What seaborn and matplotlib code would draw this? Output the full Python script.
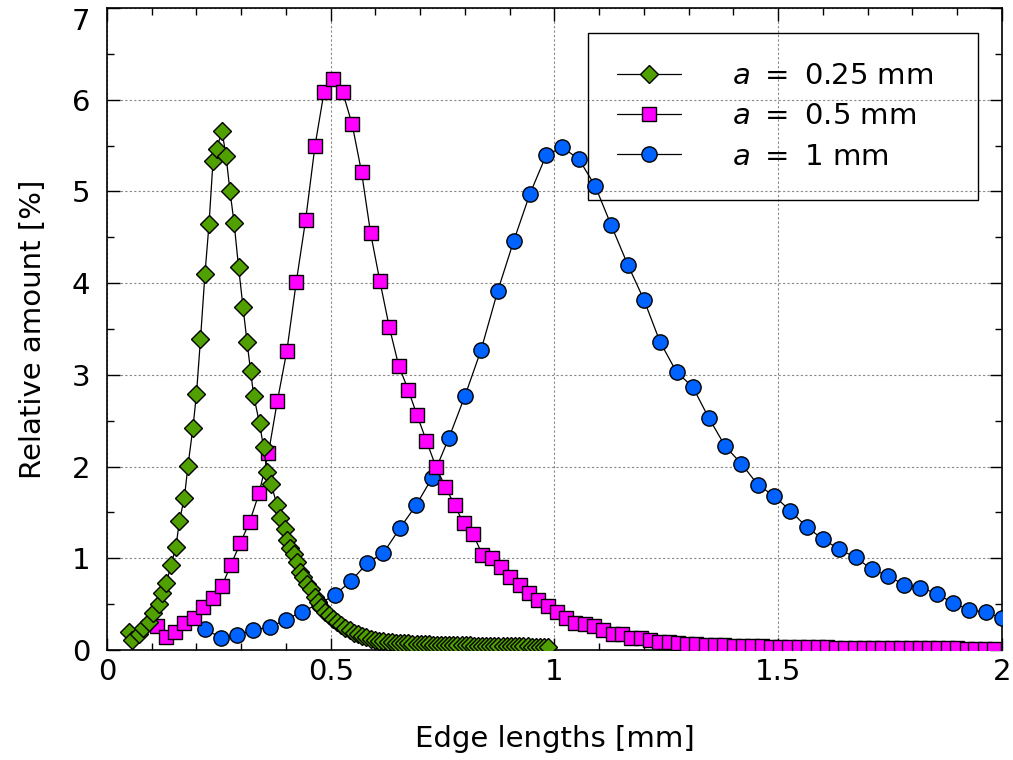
import numpy as np
import matplotlib
matplotlib.use("Agg")
import matplotlib.pyplot as plt
from matplotlib.ticker import MultipleLocator, FormatStrFormatter
import seaborn as sns

# a = 0.25 mm (green diamonds)
green_x = [0.050, 0.057, 0.072, 0.080, 0.093, 0.102, 0.116, 0.122, 0.133, 0.143,
           0.154, 0.162, 0.173, 0.181, 0.192, 0.200, 0.209, 0.219, 0.228, 0.237,
           0.245, 0.257, 0.266, 0.275, 0.284, 0.294, 0.304, 0.313, 0.321, 0.328,
           0.341, 0.350, 0.358, 0.367, 0.380, 0.387, 0.397, 0.403, 0.410, 0.418,
           0.425, 0.431, 0.438, 0.448, 0.455, 0.464, 0.472, 0.479, 0.487, 0.496,
           0.505, 0.515, 0.524, 0.533, 0.543, 0.552, 0.561, 0.571, 0.580, 0.590,
           0.599, 0.609,
           0.618, 0.627, 0.636, 0.646, 0.655, 0.664, 0.673, 0.682, 0.692, 0.701,
           0.710, 0.719, 0.728, 0.737, 0.747, 0.756, 0.765, 0.774, 0.783, 0.793,
           0.802, 0.811, 0.820, 0.829, 0.838, 0.848, 0.857, 0.866, 0.875, 0.884,
           0.894, 0.903, 0.912, 0.921, 0.930, 0.940, 0.949, 0.958, 0.967, 0.976,
           0.985]
green_y = [0.195, 0.105, 0.176, 0.24, 0.31, 0.40, 0.50, 0.62, 0.73, 0.93,
           1.12, 1.41, 1.66, 2.01, 2.42, 2.79, 3.39, 4.10, 4.64, 5.33,
           5.46, 5.66, 5.39, 5.00, 4.66, 4.18, 3.74, 3.36, 3.04, 2.77,
           2.47, 2.21, 1.94, 1.81, 1.58, 1.44, 1.32, 1.20, 1.11, 1.05,
           0.96, 0.85, 0.80, 0.72, 0.67, 0.58, 0.52, 0.47, 0.41, 0.38,
           0.34, 0.305, 0.27, 0.245, 0.22, 0.19, 0.17, 0.15, 0.14, 0.12,
           0.11, 0.10,
           0.095, 0.09, 0.085, 0.08, 0.078, 0.075, 0.072, 0.07, 0.068, 0.066,
           0.064, 0.062, 0.06, 0.058, 0.057, 0.056, 0.055, 0.054, 0.053, 0.052,
           0.051, 0.05, 0.049, 0.048, 0.047, 0.046, 0.045, 0.045, 0.044, 0.043,
           0.042, 0.042, 0.041, 0.04, 0.04, 0.039, 0.038, 0.038, 0.037, 0.036,
           0.035]

# a = 0.5 mm (magenta squares)
mag_x = [0.111, 0.132, 0.153, 0.173, 0.194, 0.215, 0.236, 0.257, 0.277, 0.298,
         0.319, 0.340, 0.361, 0.381, 0.402, 0.423, 0.444, 0.465, 0.485, 0.506,
         0.527, 0.548, 0.569, 0.589, 0.610, 0.631, 0.652, 0.673, 0.693, 0.714,
         0.735, 0.756, 0.777, 0.797, 0.818, 0.839, 0.860, 0.881, 0.901, 0.922,
         0.943, 0.964, 0.985, 1.005, 1.026, 1.047, 1.068, 1.089, 1.109, 1.130,
         1.151, 1.172, 1.193, 1.213, 1.234, 1.255, 1.276, 1.297, 1.317, 1.338,
         1.359, 1.380, 1.401, 1.421, 1.442, 1.463, 1.484, 1.505, 1.525, 1.546,
         1.567, 1.588, 1.609, 1.629, 1.650, 1.671, 1.692, 1.713, 1.733, 1.754,
         1.775, 1.796, 1.817, 1.837, 1.858, 1.879, 1.900, 1.921, 1.941, 1.962,
         1.983]
mag_y = [0.26, 0.145, 0.20, 0.29, 0.345, 0.465, 0.57, 0.70, 0.93, 1.165,
         1.40, 1.71, 2.15, 2.72, 3.26, 4.01, 4.69, 5.50, 6.08, 6.23,
         6.08, 5.73, 5.21, 4.55, 4.02, 3.52, 3.10, 2.84, 2.56, 2.28,
         2.00, 1.78, 1.58, 1.38, 1.265, 1.04, 1.00, 0.90, 0.80, 0.71,
         0.62, 0.545, 0.48, 0.41, 0.35, 0.29, 0.28, 0.26, 0.215, 0.17,
         0.17, 0.135, 0.135, 0.106, 0.09, 0.085, 0.08, 0.07, 0.065, 0.06,
         0.055, 0.05, 0.048, 0.045, 0.042, 0.04, 0.038, 0.036, 0.034, 0.032,
         0.03, 0.03, 0.028, 0.027, 0.026, 0.025, 0.024, 0.023, 0.022, 0.021,
         0.02, 0.02, 0.019, 0.018, 0.018, 0.017, 0.017, 0.016, 0.016, 0.015,
         0.015]

# a = 1 mm (blue circles)
blue_x = [0.218, 0.255, 0.291, 0.327, 0.364, 0.400, 0.436, 0.473, 0.509, 0.545,
          0.582, 0.618, 0.655, 0.691, 0.727, 0.764, 0.800, 0.836, 0.873, 0.909,
          0.945, 0.982, 1.018, 1.055, 1.091, 1.127, 1.164, 1.200, 1.236, 1.273,
          1.309, 1.345, 1.382, 1.418, 1.455, 1.491, 1.527, 1.564, 1.600, 1.636,
          1.673, 1.709, 1.745, 1.782, 1.818, 1.855, 1.891, 1.927, 1.964, 2.000]
blue_y = [0.23, 0.135, 0.16, 0.22, 0.25, 0.33, 0.42, 0.50, 0.60, 0.75,
          0.95, 1.06, 1.33, 1.58, 1.88, 2.31, 2.77, 3.27, 3.91, 4.46,
          4.97, 5.40, 5.48, 5.35, 5.06, 4.63, 4.20, 3.82, 3.36, 3.03,
          2.87, 2.53, 2.22, 2.03, 1.80, 1.68, 1.52, 1.34, 1.21, 1.10,
          1.01, 0.88, 0.81, 0.71, 0.68, 0.615, 0.51, 0.44, 0.41, 0.35]

labels = [r"$a\ =$ 0.25 mm", r"$a\ =$ 0.5 mm", r"$a\ =$ 1 mm"]

sns.set_theme(style="ticks")
plt.rcParams["font.family"] = ["DejaVu Sans"]
plt.rcParams["mathtext.fontset"] = "dejavusans"
plt.rcParams["text.color"] = "black"
plt.rcParams["axes.labelcolor"] = "black"
plt.rcParams["xtick.color"] = "black"
plt.rcParams["ytick.color"] = "black"

fig = plt.figure(figsize=(10.13, 7.6), dpi=100)
ax = fig.add_axes([0.1056, 0.1447, 0.8834, 0.8448])

common = dict(color="black", lw=0.9, markeredgecolor="black", markeredgewidth=1.0,
              sort=False, errorbar=None, ax=ax, zorder=3)
# drawn back to front: blue, magenta, green
sns.lineplot(x=blue_x, y=blue_y, marker="o", ms=11, markerfacecolor="#0062ff", **common)
sns.lineplot(x=mag_x, y=mag_y, marker="s", ms=9.8, markerfacecolor="#ff00ff", **common)
sns.lineplot(x=green_x, y=green_y, marker="D", ms=9.5, markerfacecolor="#4fa000", **common)

lines = ax.get_lines()
handles = [lines[2], lines[1], lines[0]]
leg = ax.legend(handles, labels, loc="upper right",
                bbox_to_anchor=(0.5374, 0.5, 0.4358, 0.461), mode="expand",
                fontsize=21, frameon=True, fancybox=False, edgecolor="black",
                facecolor="none", framealpha=1, handlelength=2.2, handletextpad=1.75,
                borderpad=1.0, labelspacing=0.42, borderaxespad=0)
leg.get_frame().set_linewidth(1.0)
leg.set_zorder(2.5)

ax.set_xlim(0, 2)
ax.set_ylim(0, 7)
ax.xaxis.set_major_locator(MultipleLocator(0.5))
ax.xaxis.set_minor_locator(MultipleLocator(0.1))
ax.yaxis.set_major_locator(MultipleLocator(1))
ax.yaxis.set_minor_locator(MultipleLocator(0.5))
ax.xaxis.set_major_formatter(FormatStrFormatter("%g"))
ax.yaxis.set_major_formatter(FormatStrFormatter("%g"))
ax.grid(True, which="major", color="#888888", linestyle=(0, (2, 2)), linewidth=0.8)
ax.tick_params(which="both", direction="in", top=True, right=True,
               labelsize=21, color="black", width=1.0)
ax.tick_params(axis="x", pad=6)
ax.tick_params(axis="y", pad=12)
ax.tick_params(which="major", length=9)
ax.tick_params(which="minor", length=5)
for s in ax.spines.values():
    s.set_linewidth(1.2)
    s.set_color("black")

ax.set_xlabel("Edge lengths [mm]", fontsize=21, labelpad=28)
ax.set_ylabel("Relative amount [%]", fontsize=21, labelpad=18)

# keep the top "7" label inside the figure
fig.canvas.draw()
for t in ax.yaxis.get_major_ticks():
    if t.label1.get_text() == "7":
        t.label1.set_verticalalignment("top")

fig.savefig("out.png", dpi=100)
